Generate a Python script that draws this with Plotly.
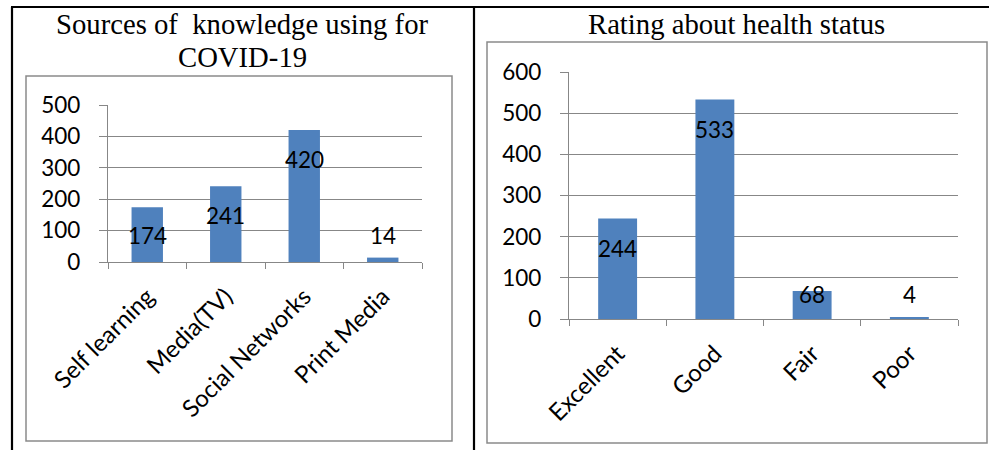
import plotly.graph_objects as go

# ---- data ----
src_categories = ["Self learning", "Media(TV)", "Social Networks", "Print Media"]
src_values = [174, 241, 420, 14]
src_ticks = [0, 100, 200, 300, 400, 500]

health_categories = ["Excellent", "Good", "Fair", "Poor"]
health_values = [244, 533, 68, 4]
health_ticks = [0, 100, 200, 300, 400, 500, 600]

title_left_1 = "Sources of  knowledge using for"
title_left_2 = "COVID-19"
title_right = "Rating about health status"
clipped_text = "ways of knowledge about the disease during the pandemic and health status of the group."

W, H = 989, 450
BAR = "#4F81BD"
GRID = "#878787"
TICKFONT = dict(family="Lato, Open Sans, sans-serif", size=22.5, color="#000000")
XTICKFONT = dict(family="Lato, Open Sans, sans-serif", size=24, color="#000000")
TITLEFONT = dict(family="Liberation Serif, Times New Roman, serif", size=28.7, color="#000000")


def px(x):
    return x / W


def py(y):
    return 1 - y / H


fig = go.Figure()
fig.add_trace(go.Bar(x=src_categories, y=src_values, marker=dict(color=BAR, line=dict(width=0)),
                     width=0.4, xaxis="x", yaxis="y", hoverinfo="skip"))
fig.add_trace(go.Bar(x=health_categories, y=health_values, marker=dict(color=BAR, line=dict(width=0)),
                     width=0.4, xaxis="x2", yaxis="y2", hoverinfo="skip"))

xcommon = dict(type="category", tickson="boundaries", ticks="outside", ticklen=6, tickcolor=GRID,
               tickwidth=1.3, showline=True, linecolor=GRID, linewidth=1.3, showgrid=False,
               tickangle=-45, tickfont=XTICKFONT, ticklabelstandoff=10, fixedrange=True,
               zeroline=False, automargin=False)
ycommon = dict(ticks="outside", ticklen=8, tickcolor=GRID, tickwidth=1.3, showline=True,
               linecolor=GRID, linewidth=1.3, showgrid=True, gridcolor=GRID, gridwidth=1.3,
               zeroline=False, tickfont=TICKFONT, ticklabelstandoff=14, fixedrange=True,
               automargin=False)

fig.update_layout(
    width=W, height=H, margin=dict(l=0, r=0, t=0, b=0, pad=0, autoexpand=False),
    paper_bgcolor="white", plot_bgcolor="white", showlegend=False,
    xaxis=dict(domain=[px(108), px(422)], anchor="y", **xcommon),
    yaxis=dict(domain=[py(262), py(105)], anchor="x", range=[0, 500], tickvals=src_ticks, **ycommon),
    xaxis2=dict(domain=[px(569), px(958)], anchor="y2", **xcommon),
    yaxis2=dict(domain=[py(319), py(72)], anchor="x2", range=[0, 600], tickvals=health_ticks, **ycommon),
)

ann = []
# data labels (Excel-style: inside end, with a minimum height)
for c, v in zip(src_categories, src_values):
    ann.append(dict(x=c, y=max(v - 92, 86), xref="x", yref="y", text=str(v), showarrow=False,
                    font=TICKFONT, yanchor="middle"))
for c, v in zip(health_categories, health_values):
    ann.append(dict(x=c, y=max(v - 73, 60), xref="x2", yref="y2", text=str(v), showarrow=False,
                    font=TICKFONT, yanchor="middle"))

# titles
ann.append(dict(x=px(242), y=py(24), xref="paper", yref="paper", text=title_left_1, showarrow=False,
                font=TITLEFONT, xanchor="center", yanchor="middle"))
ann.append(dict(x=px(242), y=py(57), xref="paper", yref="paper", text=title_left_2, showarrow=False,
                font=TITLEFONT, xanchor="center", yanchor="middle"))
ann.append(dict(x=px(736), y=py(24), xref="paper", yref="paper", text=title_right, showarrow=False,
                font=TITLEFONT, xanchor="center", yanchor="middle"))
# clipped line of document text above the table
ann.append(dict(x=px(-5), y=py(1), xref="paper", yref="paper", text=clipped_text, showarrow=False,
                font=dict(family="Liberation Serif, serif", size=28.7, color="#9a9a9a"),
                xanchor="left", yanchor="bottom"))
fig.update_layout(annotations=ann)

shapes = []
# chart area boxes
shapes.append(dict(type="rect", xref="paper", yref="paper", x0=px(26), x1=px(452), y0=py(441), y1=py(76),
                   line=dict(color="#8a8a8a", width=1.5)))
shapes.append(dict(type="rect", xref="paper", yref="paper", x0=px(487), x1=px(987), y0=py(443), y1=py(42),
                   line=dict(color="#8a8a8a", width=1.5)))
# table borders
shapes.append(dict(type="line", xref="paper", yref="paper", x0=px(11), x1=px(989), y0=py(7), y1=py(7),
                   line=dict(color="black", width=2.2)))
shapes.append(dict(type="line", xref="paper", yref="paper", x0=px(12), x1=px(12), y0=py(7), y1=py(450),
                   line=dict(color="black", width=2.2)))
shapes.append(dict(type="line", xref="paper", yref="paper", x0=px(474), x1=px(474), y0=py(7), y1=py(450),
                   line=dict(color="black", width=2.2)))
fig.update_layout(shapes=shapes)

fig.write_html("out.html", config={"displayModeBar": False})
